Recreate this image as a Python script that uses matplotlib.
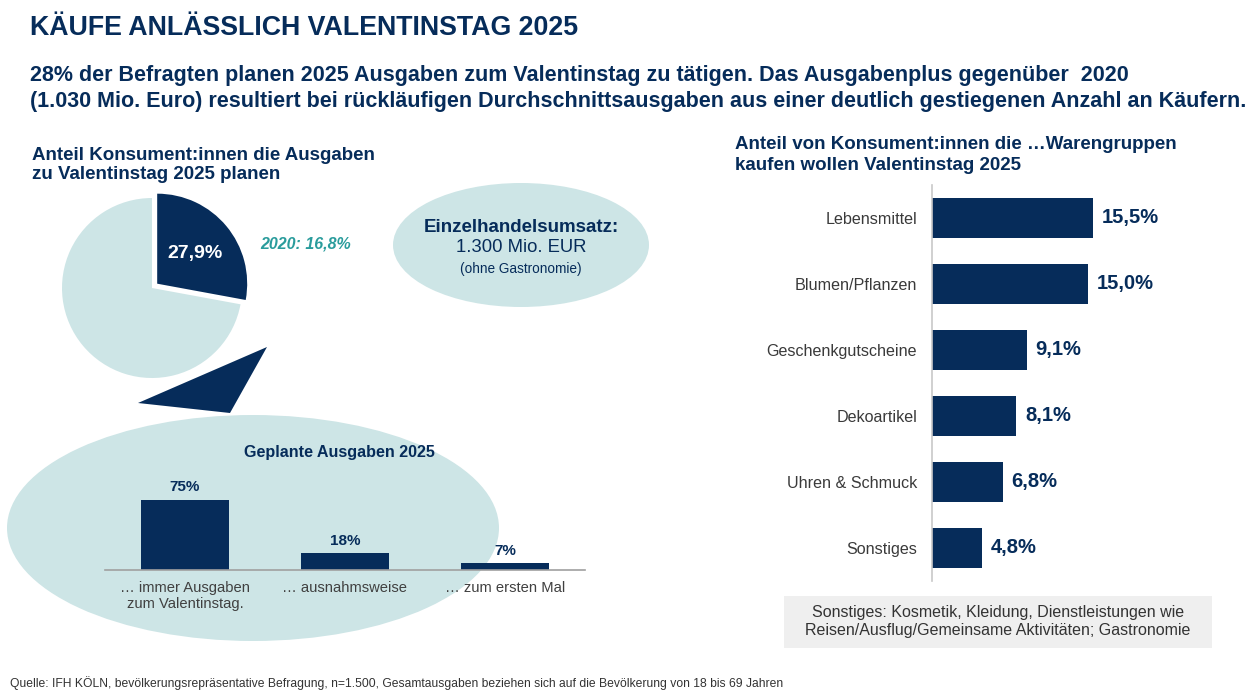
import numpy as np
import matplotlib
matplotlib.use('Agg')
import matplotlib.pyplot as plt
from matplotlib.patches import Ellipse, Polygon, Rectangle

# data
pie_share = [27.9, 72.1]
pie_label = "27,9%"
prev_label = "2020: 16,8%"

plan_labels = ["… immer Ausgaben\nzum Valentinstag.", "… ausnahmsweise", "… zum ersten Mal"]
plan_values = [75, 18, 7]

groups = ["Lebensmittel", "Blumen/Pflanzen", "Geschenkgutscheine", "Dekoartikel",
          "Uhren & Schmuck", "Sonstiges"]
group_values = [15.5, 15.0, 9.1, 8.1, 6.8, 4.8]

NAVY = "#062c5a"
LIGHT = "#cde5e6"
TEAL = "#2a9c9c"
GREY_TXT = "#3a3a3a"

plt.rcParams['font.family'] = ['Liberation Sans', 'DejaVu Sans']

W, H = 1260, 700
fig = plt.figure(figsize=(W / 100, H / 100), dpi=100)


def px(x, y):
    return x / W, 1 - y / H


def box(left, top, width, height):
    return [left / W, 1 - (top + height) / H, width / W, height / H]


def ftext(x, y, s, **kw):
    fx, fy = px(x, y)
    fig.text(fx, fy, s, **kw)


# headings
ftext(30, 28, "KÄUFE ANLÄSSLICH VALENTINSTAG 2025", fontsize=19.3, fontweight='bold',
      color=NAVY, va='center')
ftext(30, 75, "28% der Befragten planen 2025 Ausgaben zum Valentinstag zu tätigen. Das Ausgabenplus gegenüber  2020",
      fontsize=15.5, fontweight='bold', color=NAVY, va='center')
ftext(30, 102, "(1.030 Mio. Euro) resultiert bei rückläufigen Durchschnittsausgaben aus einer deutlich gestiegenen Anzahl an Käufern.",
      fontsize=15.5, fontweight='bold', color=NAVY, va='center')

ftext(32, 165, "Anteil Konsument:innen die Ausgaben\nzu Valentinstag 2025 planen", fontsize=13.5,
      fontweight='bold', color=NAVY, va='center', linespacing=1.15)
ftext(735, 155, "Anteil von Konsument:innen die …Warengruppen\nkaufen wollen Valentinstag 2025", fontsize=13.5,
      fontweight='bold', color=NAVY, va='center', linespacing=1.35)

# background shapes
bg = fig.add_axes([0, 0, 1, 1], zorder=0)
bg.set_xlim(0, W)
bg.set_ylim(H, 0)
bg.axis('off')
bg.add_patch(Ellipse((253, 528), 492, 226, color=LIGHT, lw=0))
bg.add_patch(Ellipse((521, 245), 256, 124, color=LIGHT, lw=0))
bg.add_patch(Polygon([(267, 347), (138, 403), (230, 413)], closed=True, color=NAVY, lw=0))
bg.add_patch(Rectangle((784, 596), 428, 52, color="#efefef", lw=0))

bg.text(521, 227, "Einzelhandelsumsatz:", ha='center', va='center', fontsize=13.5,
        fontweight='bold', color=NAVY)
bg.text(521, 248, "1.300 Mio. EUR", ha='center', va='center', fontsize=13.3, color=NAVY)
bg.text(521, 269, "(ohne Gastronomie)", ha='center', va='center', fontsize=9.8, color=NAVY)
bg.text(260, 244, prev_label, ha='left', va='center', fontsize=11.5, fontweight='bold',
        fontstyle='italic', color=TEAL)
bg.text(998, 622, "Sonstiges: Kosmetik, Kleidung, Dienstleistungen wie\nReisen/Ausflug/Gemeinsame Aktivitäten; Gastronomie",
        ha='center', va='center', fontsize=11.5, color="#333333", linespacing=1.25)
bg.text(339, 452, "Geplante Ausgaben 2025", ha='center', va='center', fontsize=11.6,
        fontweight='bold', color=NAVY)
bg.text(10, 683, "Quelle: IFH KÖLN, bevölkerungsrepräsentative Befragung, n=1.500, Gesamtausgaben beziehen sich auf die Bevölkerung von 18 bis 69 Jahren",
        ha='left', va='center', fontsize=8.7, color="#333333")

# pie
r_px = 90
ax_pie = fig.add_axes(box(152 - 100, 288 - 100, 200, 200), zorder=1)
ax_pie.pie(pie_share, colors=[NAVY, LIGHT], startangle=90, counterclock=False,
           explode=[0.075, 0], radius=1, wedgeprops=dict(linewidth=0))
lim = 100 / r_px
ax_pie.set_xlim(-lim, lim)
ax_pie.set_ylim(-lim, lim)
ax_pie.set_aspect('equal')
ax_pie.axis('off')
mid = np.deg2rad(90 - pie_share[0] / 100 * 360 / 2)
ax_pie.text(0.55 * np.cos(mid) + 0.075 * np.cos(mid), 0.52 * np.sin(mid) + 0.075 * np.sin(mid),
            pie_label, ha='center', va='center', color='white', fontsize=14, fontweight='bold')

# planned spending bars
ax_plan = fig.add_axes(box(105, 470, 480, 100), zorder=1)
ax_plan.patch.set_alpha(0)
xp = np.arange(len(plan_values))
ax_plan.bar(xp, plan_values, width=0.55, color=NAVY)
for x, v in zip(xp, plan_values):
    ax_plan.text(x, v + 6, f"{v}%", ha='center', va='bottom', fontsize=11,
                 fontweight='bold', color=NAVY)
ax_plan.set_xlim(-0.5, 2.5)
ax_plan.set_ylim(0, 107)
ax_plan.set_xticks(xp)
ax_plan.set_xticklabels(plan_labels, fontsize=10.6, color="#404040", linespacing=1.15)
ax_plan.tick_params(axis='x', length=0, pad=8)
ax_plan.set_yticks([])
for s in ['top', 'right', 'left']:
    ax_plan.spines[s].set_visible(False)
ax_plan.spines['bottom'].set_color("#a0a0a0")
ax_plan.spines['bottom'].set_linewidth(1.2)

# product groups bars
ax_g = fig.add_axes(box(932, 185, 260, 396), zorder=1)
ax_g.patch.set_alpha(0)
yg = np.arange(len(group_values))
ax_g.barh(yg, group_values, height=0.6, color=NAVY)
for y, v in zip(yg, group_values):
    ax_g.text(v + 0.85, y, f"{v:.1f}%".replace('.', ','), ha='left', va='center',
              fontsize=14.5, fontweight='bold', color=NAVY)
ax_g.set_xlim(0, 25)
ax_g.set_ylim(len(group_values) - 0.5, -0.5)
ax_g.set_yticks(yg)
ax_g.set_yticklabels(groups, fontsize=11.6, color=GREY_TXT)
ax_g.tick_params(axis='y', length=0, pad=10.8)
ax_g.set_xticks([])
for s in ['top', 'right', 'bottom']:
    ax_g.spines[s].set_visible(False)
ax_g.spines['left'].set_color("#c8c8c8")
ax_g.spines['left'].set_linewidth(1.2)

fig.savefig("out.png", dpi=100)
